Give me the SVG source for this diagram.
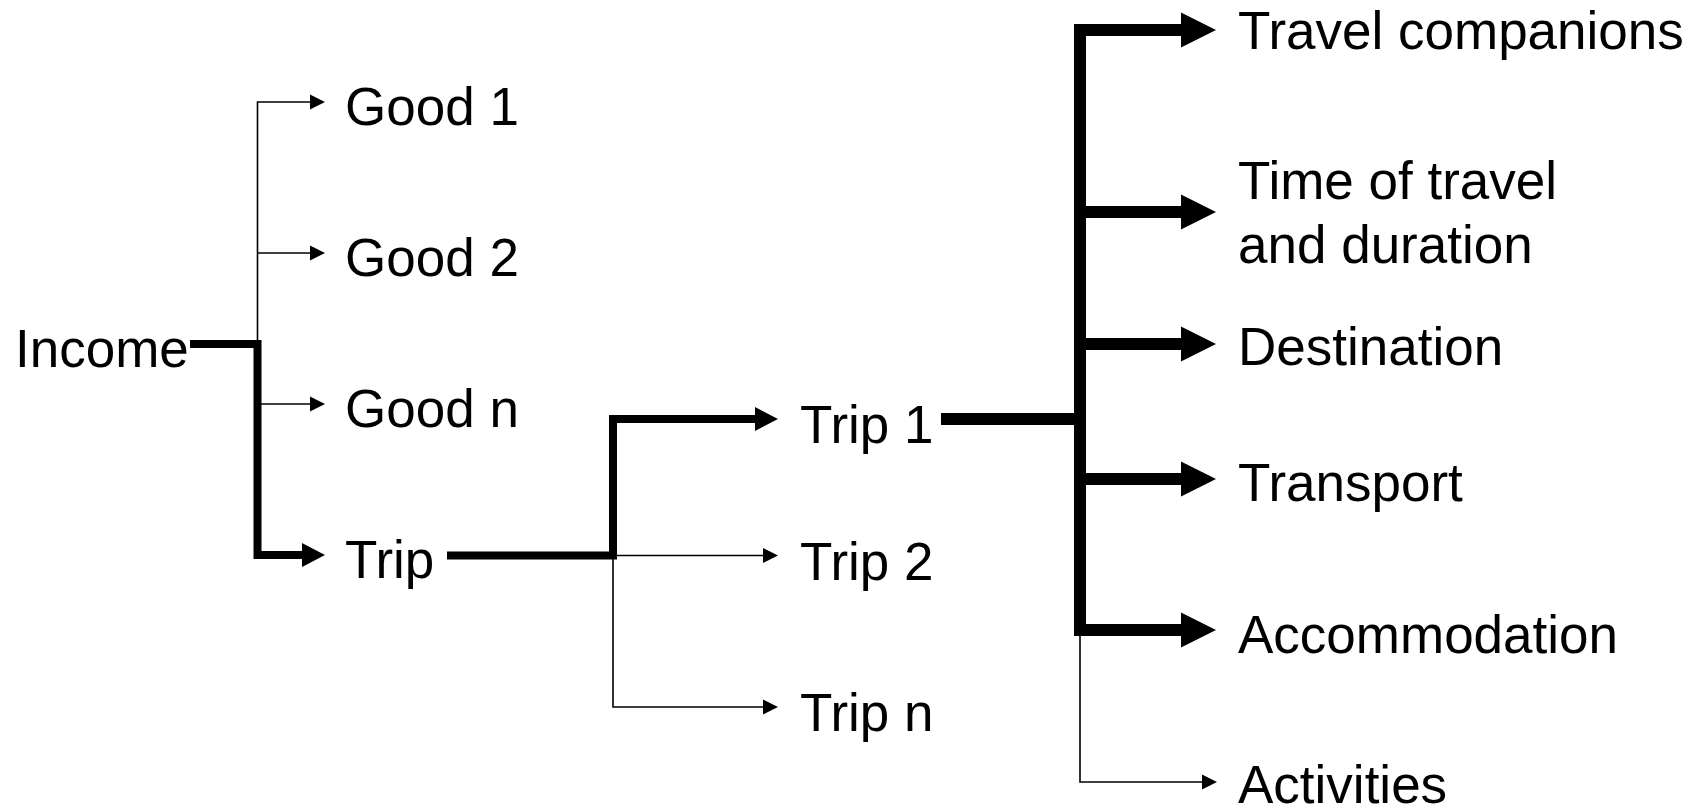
<svg xmlns="http://www.w3.org/2000/svg" width="1708" height="807" viewBox="0 0 1708 807">
  <style>
    .lbl { font-family: "Liberation Sans", Arial, sans-serif; font-size: 53px; fill: #000; }
    .ln { fill: none; stroke: #000; stroke-linejoin: miter; stroke-linecap: butt; }
    .thin { stroke-width: 1.6; }
    .mid { stroke-width: 8; }
    .bold { stroke-width: 12; }
  </style>
  <defs>
    <!-- arrowheads sized in user units so each line weight gets its own head -->
    <marker id="headThin" markerUnits="userSpaceOnUse" viewBox="0 0 16 16" markerWidth="16" markerHeight="16" refX="1" refY="8" orient="auto">
      <path d="M0,0.5 L15,8 L0,15.5 z" fill="#000"/>
    </marker>
    <marker id="headMid" markerUnits="userSpaceOnUse" viewBox="0 0 24 26" markerWidth="24" markerHeight="26" refX="1" refY="13" orient="auto">
      <path d="M0,1 L23,13 L0,25 z" fill="#000"/>
    </marker>
    <marker id="headBold" markerUnits="userSpaceOnUse" viewBox="0 0 36 36" markerWidth="36" markerHeight="36" refX="1" refY="18" orient="auto">
      <path d="M0,0.5 L35,18 L0,35.5 z" fill="#000"/>
    </marker>
  </defs>

  <g id="connectors">
    <!-- Income to goods -->
    <path class="ln thin" d="M257.5,344 V102 H311" marker-end="url(#headThin)"/>
    <path class="ln thin" d="M257.5,253 H311" marker-end="url(#headThin)"/>
    <path class="ln thin" d="M261,404 H311" marker-end="url(#headThin)"/>
    <path class="ln mid" d="M190,344 H257.5 V555 H303" marker-end="url(#headMid)"/>

    <!-- Trip to individual trips -->
    <path class="ln thin" d="M613,555.5 H764" marker-end="url(#headThin)"/>
    <path class="ln thin" d="M613,555.5 V707 H764" marker-end="url(#headThin)"/>
    <path class="ln mid" d="M447,555.5 H613 V419 H756" marker-end="url(#headMid)"/>

    <!-- Trip 1 to trip attributes -->
    <path class="ln thin" d="M1080,630 V782 H1203" marker-end="url(#headThin)"/>
    <path class="ln bold" d="M941,419 H1080"/>
    <path class="ln bold" d="M1182,630 H1080 V30 H1182" marker-end="url(#headBold)"/>
    <path class="ln bold" d="M1080,212 H1182" marker-end="url(#headBold)"/>
    <path class="ln bold" d="M1080,344 H1182" marker-end="url(#headBold)"/>
    <path class="ln bold" d="M1080,479 H1182" marker-end="url(#headBold)"/>
    <path class="ln bold" d="M1080,630 H1182" marker-end="url(#headBold)"/>
  </g>

  <g id="income"><text class="lbl" x="15" y="367">Income</text></g>
  <g id="good1"><text class="lbl" x="345" y="125">Good 1</text></g>
  <g id="good2"><text class="lbl" x="345" y="276">Good 2</text></g>
  <g id="goodn"><text class="lbl" x="345" y="427">Good n</text></g>
  <g id="trip"><text class="lbl" x="345" y="578">Trip</text></g>

  <g id="trip1"><text class="lbl" x="800" y="443">Trip 1</text></g>
  <g id="trip2"><text class="lbl" x="800" y="580">Trip 2</text></g>
  <g id="tripn"><text class="lbl" x="800" y="731">Trip n</text></g>

  <g id="companions"><text class="lbl" x="1238" y="49">Travel companions</text></g>
  <g id="time">
    <text class="lbl" x="1238" y="199">Time of travel</text>
    <text class="lbl" x="1238" y="263">and duration</text>
  </g>
  <g id="destination"><text class="lbl" x="1238" y="365">Destination</text></g>
  <g id="transport"><text class="lbl" x="1238" y="501">Transport</text></g>
  <g id="accommodation"><text class="lbl" x="1238" y="653">Accommodation</text></g>
  <g id="activities"><text class="lbl" x="1238" y="803">Activities</text></g>
</svg>
